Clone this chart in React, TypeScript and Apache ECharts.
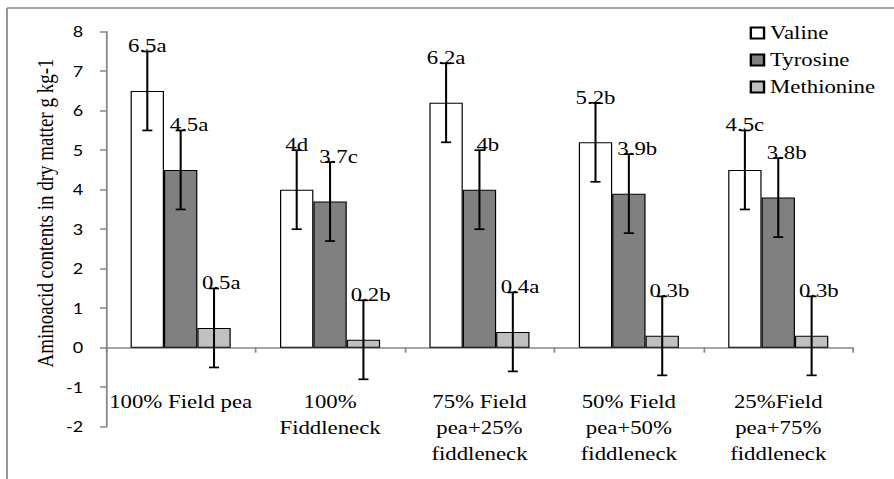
import React, { useEffect, useRef } from "react";
import * as echarts from "echarts";

// ---- data ----
const categories = [
  "100% Field pea",
  "100%\nFiddleneck",
  "75% Field\npea+25%\nfiddleneck",
  "50% Field\npea+50%\nfiddleneck",
  "25%Field\npea+75%\nfiddleneck",
];
const seriesNames = ["Valine", "Tyrosine", "Methionine"];
const valine = [6.5, 4, 6.2, 5.2, 4.5];
const tyrosine = [4.5, 3.7, 4, 3.9, 3.8];
const methionine = [0.5, 0.2, 0.4, 0.3, 0.3];
const valineErr = [1, 1, 1, 1, 1];
const tyrosineErr = [1, 1, 1, 1, 1];
const methionineErr = [1, 1, 1, 1, 1];
const valineLetters = ["a", "d", "a", "b", "c"];
const tyrosineLetters = ["a", "c", "b", "b", "b"];
const methionineLetters = ["a", "b", "a", "b", "b"];
const yMin = -2;
const yMax = 8;
const yStep = 1;
const yTitle = "Aminoacid contents in dry matter g kg-1";

// ---- styling ----
const SX = 1.2; // the reference is stretched horizontally
const W = 745;
const H = 479;
const SERIF = "Liberation Serif";
const SANS = "Lato";
const fills = ["#ffffff", "#808080", "#c0c0c0"];
const labelDx = [0, 7, 6];
const CAT_GAP = 0.33;

export default function App() {
  const ref = useRef<HTMLDivElement>(null);
  useEffect(() => {
    if (!ref.current) return;
    const chart = echarts.init(ref.current, null, { renderer: "svg" });
    const values = [valine, tyrosine, methionine];
    const errs = [valineErr, tyrosineErr, methionineErr];
    const letters = [valineLetters, tyrosineLetters, methionineLetters];

    const barSeries = seriesNames.map((name, i) => ({
      name,
      type: "bar",
      data: values[i],
      barGap: "0%",
      barCategoryGap: CAT_GAP * 100 + "%",
      itemStyle: { color: fills[i], borderColor: "#000", borderWidth: 1 },
      z: 2,
    }));

    const errSeries = seriesNames.map((name, i) => ({
      name: name + " error",
      type: "custom",
      z: 5,
      data: categories.map((_, k) => [k, values[i][k], errs[i][k]]),
      renderItem: (params: any, api: any) => {
        const k = api.value(0);
        const v = api.value(1);
        const e = api.value(2);
        const band = api.size([1, 0])[0];
        const barW = (band * (1 - CAT_GAP)) / 3;
        const cx = api.coord([k, 0])[0] + (i - 1) * barW;
        const top = api.coord([k, v + e])[1];
        const bot = api.coord([k, v - e])[1];
        const cap = 4.2;
        const st = { stroke: "#000", lineWidth: 1.7 };
        return {
          type: "group",
          children: [
            { type: "line", shape: { x1: cx, y1: top, x2: cx, y2: bot }, style: st },
            { type: "line", shape: { x1: cx - cap, y1: top, x2: cx + cap, y2: top }, style: st },
            { type: "line", shape: { x1: cx - cap, y1: bot, x2: cx + cap, y2: bot }, style: st },
            {
              type: "text",
              x: cx + labelDx[i],
              y: top + 4,
              style: {
                text: String(values[i][k]) + letters[i][k],
                fontFamily: SERIF,
                fontSize: 19,
                fill: "#000",
                align: "center",
                verticalAlign: "bottom",
              },
            },
          ],
        };
      },
    }));

    chart.setOption({
      animation: false,
      backgroundColor: "#fff",
      grid: {
        left: 88.3,
        right: 34.2,
        top: 31.7,
        bottom: 52.3,
        containLabel: false,
        outerBoundsMode: "none",
      },
      legend: {
        data: seriesNames,
        orient: "vertical",
        left: 619.7,
        top: 17,
        icon: "rect",
        itemWidth: 11,
        itemHeight: 11,
        itemGap: 5,
        textStyle: { fontFamily: SERIF, fontSize: 19, color: "#000", lineHeight: 22 },
      },
      xAxis: {
        type: "category",
        data: categories,
        axisLine: { onZero: true, lineStyle: { color: "#868686", width: 1.5 } },
        axisTick: { show: true, length: 5, lineStyle: { color: "#868686", width: 1.5 } },
        axisLabel: {
          interval: 0,
          margin: -38,
          fontFamily: SERIF,
          fontSize: 19,
          lineHeight: 26,
          color: "#000",
          hideOverlap: false,
        },
      },
      yAxis: {
        type: "value",
        min: yMin,
        max: yMax,
        interval: yStep,
        splitLine: { show: false },
        axisLine: { show: true, lineStyle: { color: "#868686", width: 1.5 } },
        axisTick: { show: true, length: 5, lineStyle: { color: "#868686", width: 1.5 } },
        axisLabel: { margin: 19, fontFamily: SANS, fontSize: 15, color: "#000" },
      },
      graphic: [
        { type: "line", shape: { x1: 5.8, y1: 8, x2: W, y2: 8 }, style: { stroke: "#8a8a8a", lineWidth: 1.5 } },
        { type: "line", shape: { x1: 5.8, y1: 8, x2: 5.8, y2: H }, style: { stroke: "#8a8a8a", lineWidth: 1.5 } },
        {
          type: "text",
          x: 37.5,
          y: 213,
          rotation: Math.PI / 2,
          style: {
            text: yTitle,
            fontFamily: SERIF,
            fontSize: 19,
            fill: "#000",
            align: "center",
            verticalAlign: "middle",
          },
        },
      ],
      series: [...barSeries, ...errSeries],
    });
    return () => chart.dispose();
  }, []);
  return (
    <div
      ref={ref}
      style={{
        position: "absolute",
        left: 0,
        top: 0,
        width: W,
        height: H,
        transform: `scaleX(${SX})`,
        transformOrigin: "0 0",
      }}
    />
  );
}
